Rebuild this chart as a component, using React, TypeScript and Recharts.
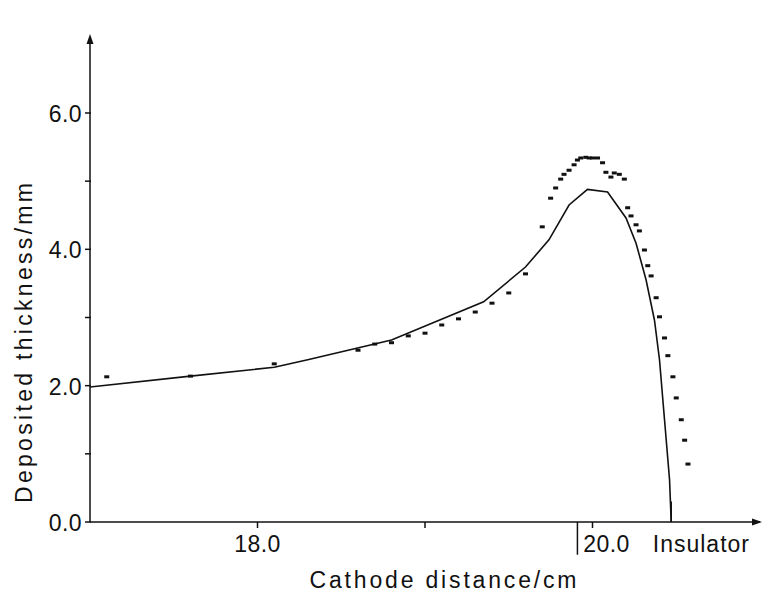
import React from 'react';
import {
  ComposedChart,
  Line,
  Scatter,
  XAxis,
  YAxis,
  ReferenceLine,
  ReferenceDot,
} from 'recharts';

// Calculated deposit profile (solid line)
const LINE_X = [17.0, 17.6, 18.1, 18.3, 18.8, 19.35, 19.6, 19.74, 19.86, 19.97, 20.09, 20.2, 20.26, 20.32, 20.37, 20.4, 20.43, 20.46, 20.47];
const LINE_Y = [1.98, 2.14, 2.27, 2.38, 2.67, 3.23, 3.74, 4.14, 4.65, 4.88, 4.84, 4.46, 4.09, 3.55, 2.96, 2.38, 1.5, 0.62, 0];

// Measured deposit thickness (dots)
const DOT_X = [17.1, 17.6, 18.1, 18.6, 18.7, 18.8, 18.9, 19.0, 19.1, 19.2, 19.3, 19.4, 19.5, 19.6, 19.7, 19.75, 19.78, 19.81, 19.83, 19.86, 19.89, 19.91, 19.93, 19.96, 19.98, 20.0, 20.03, 20.06, 20.08, 20.11, 20.13, 20.16, 20.19, 20.21, 20.23, 20.26, 20.28, 20.31, 20.33, 20.35, 20.38, 20.4, 20.43, 20.45, 20.48, 20.5, 20.53, 20.55, 20.57];
const DOT_Y = [2.13, 2.14, 2.32, 2.52, 2.61, 2.63, 2.73, 2.77, 2.89, 2.98, 3.08, 3.21, 3.36, 3.64, 4.33, 4.75, 4.9, 5.03, 5.1, 5.16, 5.24, 5.31, 5.34, 5.35, 5.34, 5.34, 5.34, 5.27, 5.13, 5.06, 5.12, 5.1, 5.03, 4.61, 4.49, 4.36, 4.27, 3.99, 3.76, 3.61, 3.29, 3.01, 2.7, 2.44, 2.13, 1.82, 1.5, 1.2, 0.85];

const X_DOMAIN = [17.0, 21.0];
const Y_DOMAIN = [0, 7.1];
const X_TICKS = [18, 19, 20, 20.65];
const X_TICK_LABELS: Record<string, string> = { '18': '18.0', '19': '', '20': '20.0', '20.65': 'Insulator' };
const Y_TICKS = [0, 1, 2, 3, 4, 5, 6];
const Y_TICK_LABELS: Record<string, string> = { '0': '0.0', '1': '', '2': '2.0', '3': '', '4': '4.0', '5': '', '6': '6.0' };

const ELECTRODE_EDGE = 19.91;
const INSULATOR_EDGE = 20.47;

const X_TITLE = 'Cathode distance/cm';
const Y_TITLE = 'Deposited thickness/mm';

const lineData = LINE_X.map((x, i) => ({ x, y: LINE_Y[i] }));
const dotData = DOT_X.map((x, i) => ({ x, y: DOT_Y[i] }));

const FONT = '"Liberation Sans", Arial, Helvetica, sans-serif';
const INK = '#111';

const XTick = (props: any) => {
  const { x, y, payload } = props;
  const key = String(payload.value);
  const label = X_TICK_LABELS[key] ?? '';
  const isInsulator = label === 'Insulator';
  const dx = key === '20' ? 14 : 0;
  return (
    <g>
      {!isInsulator && <line x1={x} x2={x} y1={y} y2={y + 6} stroke={INK} strokeWidth={1.5} />}
      {label && (
        <text
          x={x + dx}
          y={y + 30}
          textAnchor="middle"
          fontFamily={FONT}
          fontSize={23}
          letterSpacing={isInsulator ? 1.0 : 0.4}
          fill={INK}
        >
          {label}
        </text>
      )}
    </g>
  );
};

const YTick = (props: any) => {
  const { x, y, payload } = props;
  const label = Y_TICK_LABELS[String(payload.value)] ?? '';
  return (
    <g>
      <line x1={x + 1} x2={x - 5} y1={y} y2={y} stroke={INK} strokeWidth={1.5} />
      {label && (
        <text x={x - 8} y={y + 9} textAnchor="end" fontFamily={FONT} fontSize={23} letterSpacing={0.4} fill={INK}>
          {label}
        </text>
      )}
    </g>
  );
};

const XTitle = (props: any) => {
  const vb = props.viewBox || {};
  const cx = vb.x + vb.width / 2 + 18;
  return (
    <text
      x={cx}
      y={vb.y + 66}
      textAnchor="middle"
      fontFamily={FONT}
      fontSize={23}
      textLength={267}
      lengthAdjust="spacing"
      fill={INK}
    >
      {X_TITLE}
    </text>
  );
};

const YTitle = (props: any) => {
  const vb = props.viewBox || {};
  const cy = vb.y + vb.height / 2 + 63;
  const bx = 32;
  return (
    <text
      x={bx}
      y={cy}
      transform={`rotate(-90 ${bx} ${cy})`}
      textAnchor="middle"
      fontFamily={FONT}
      fontSize={23}
      textLength={320}
      lengthAdjust="spacing"
      fill={INK}
    >
      {Y_TITLE}
    </text>
  );
};

const DashDot = (props: any) => {
  const { cx, cy } = props;
  if (cx == null || cy == null) return null;
  return <rect x={cx - 2.5} y={cy - 1.5} width={5} height={3} fill={INK} />;
};

const RightArrow = (props: any) => {
  const { cx, cy } = props;
  return <path d={`M ${cx + 2} ${cy} L ${cx - 8} ${cy - 3.5} L ${cx - 8} ${cy + 3.5} Z`} fill={INK} />;
};

const UpArrow = (props: any) => {
  const { cx, cy } = props;
  return <path d={`M ${cx} ${cy - 4} L ${cx - 3.5} ${cy + 6} L ${cx + 3.5} ${cy + 6} Z`} fill={INK} />;
};

export default function App() {
  return (
    <div style={{ position: 'absolute', left: 0, top: 0, width: 763, height: 592, background: '#fff' }}>
      <ComposedChart width={763} height={592} margin={{ top: 38, right: 3, bottom: 0, left: 0 }}>
        <XAxis
          type="number"
          dataKey="x"
          domain={X_DOMAIN}
          ticks={X_TICKS}
          allowDataOverflow
          height={70}
          tickSize={0}
          tickMargin={0}
          tickLine={false}
          tick={<XTick />}
          axisLine={{ stroke: INK, strokeWidth: 1.5 }}
          label={<XTitle />}
          interval={0}
        />
        <YAxis
          type="number"
          dataKey="y"
          domain={Y_DOMAIN}
          ticks={Y_TICKS}
          allowDataOverflow
          width={90}
          tickSize={0}
          tickMargin={0}
          tickLine={false}
          tick={<YTick />}
          axisLine={{ stroke: INK, strokeWidth: 1.5 }}
          label={<YTitle />}
          interval={0}
        />
        <ReferenceLine
          segment={[{ x: ELECTRODE_EDGE, y: 0 }, { x: ELECTRODE_EDGE, y: -0.48 }]}
          stroke={INK}
          strokeWidth={1.5}
          ifOverflow="visible"
        />
        <ReferenceLine
          segment={[{ x: INSULATOR_EDGE, y: 0 }, { x: INSULATOR_EDGE, y: 0.3 }]}
          stroke={INK}
          strokeWidth={1.5}
          ifOverflow="visible"
        />
        <Line
          data={lineData}
          dataKey="y"
          type="linear"
          stroke={INK}
          strokeWidth={1.6}
          dot={false}
          activeDot={false}
          isAnimationActive={false}
        />
        <Scatter data={dotData} dataKey="y" shape={<DashDot />} isAnimationActive={false} />
        <ReferenceDot x={X_DOMAIN[1]} y={0} r={0} shape={<RightArrow />} ifOverflow="visible" />
        <ReferenceDot x={X_DOMAIN[0]} y={Y_DOMAIN[1]} r={0} shape={<UpArrow />} ifOverflow="visible" />
      </ComposedChart>
    </div>
  );
}
